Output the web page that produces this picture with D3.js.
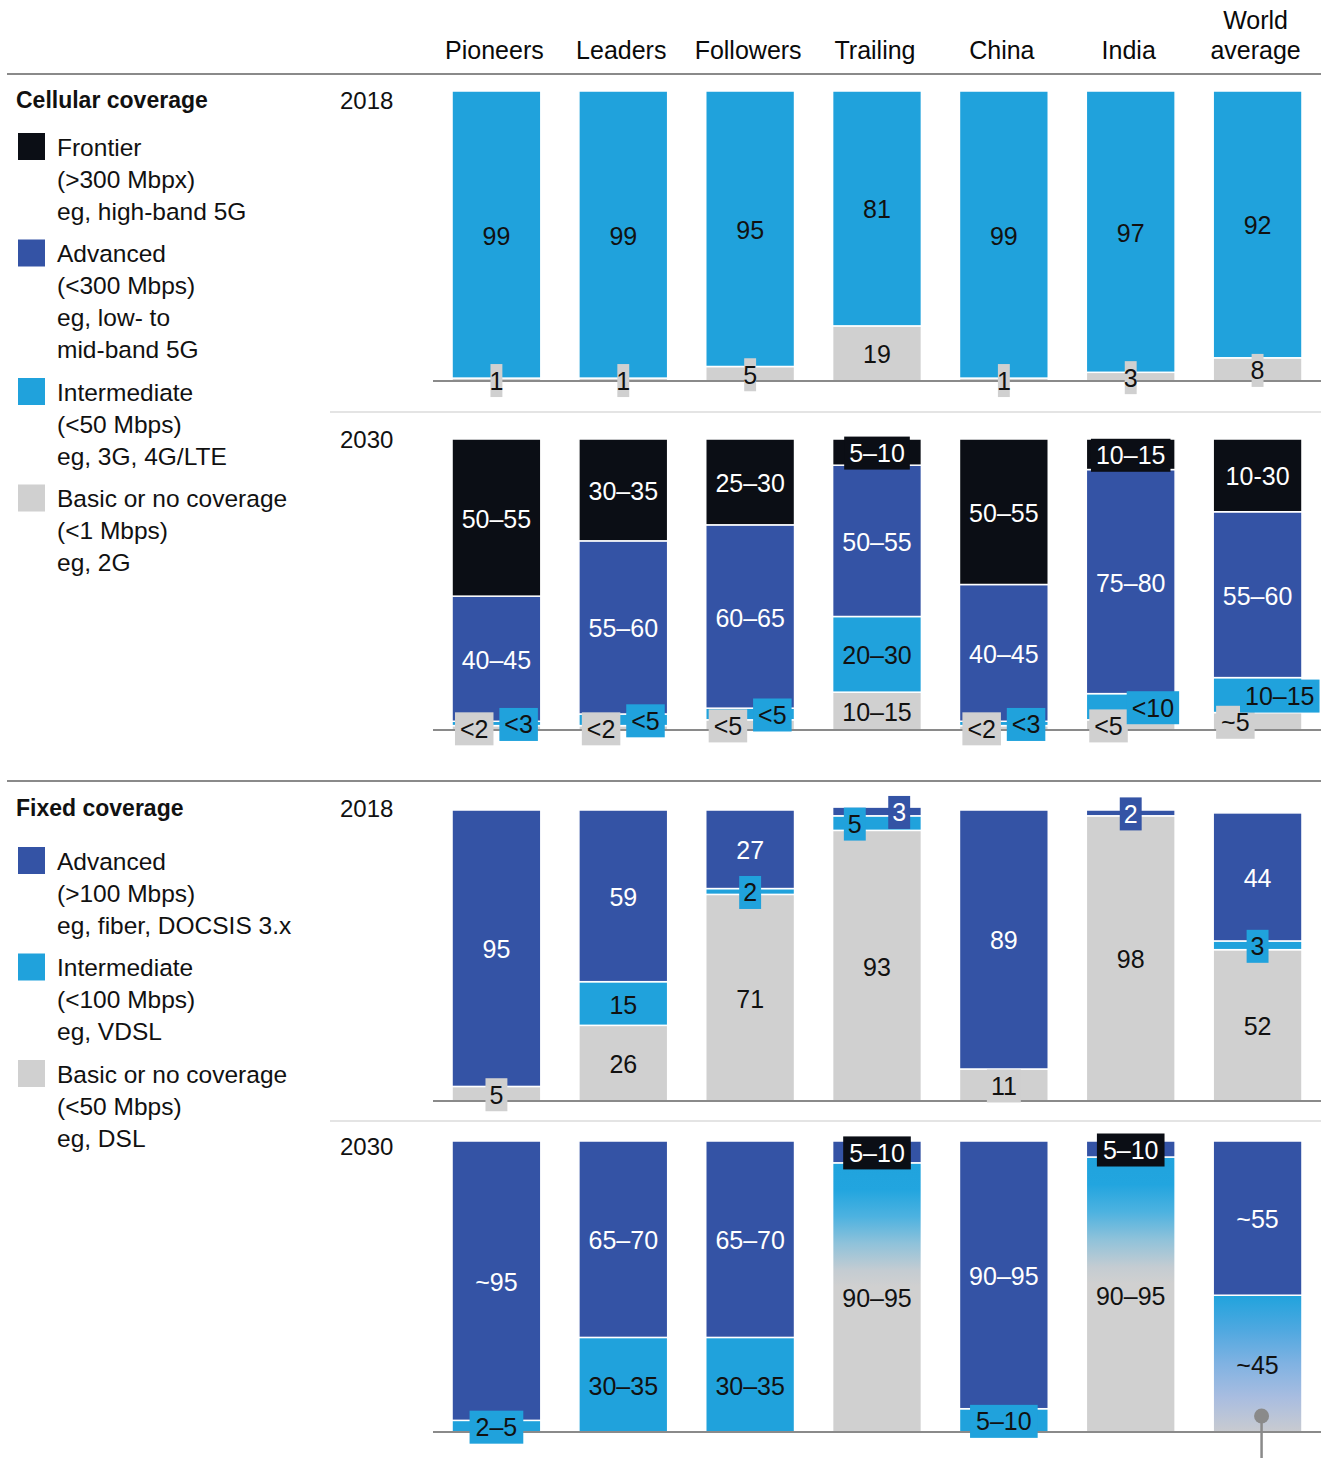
<!DOCTYPE html>
<html><head><meta charset="utf-8">
<script src="https://cdn.jsdelivr.net/npm/d3@7"></script>
<style>
body{margin:0;background:#fff;}
svg{display:block;font-family:"Liberation Sans",Arial,Helvetica,sans-serif;}
</style></head><body>
<svg id="chart" width="1330" height="1458"></svg>
<script>
// ---------- DATA ----------
const categories = ["Pioneers","Leaders","Followers","Trailing","China","India","World average"];

// Cellular coverage, 2018 (% of population)
const cell2018Intermediate = [99,99,95,81,99,97,92];
const cell2018Basic        = [1,1,5,19,1,3,8];

// Cellular coverage, 2030 (estimated shares for bar heights + printed ranges)
const cell2030Frontier       = [54,35,29.5,9,50,10.5,25];
const cell2030FrontierLabels = ["50–55","30–35","25–30","5–10","50–55","10–15","10-30"];
const cell2030Advanced       = [43,59.5,63,52,47,77,57];
const cell2030AdvancedLabels = ["40–45","55–60","60–65","50–55","40–45","75–80","55–60"];
const cell2030Intermediate       = [1.5,4,4,26,1.5,9,12];
const cell2030IntermediateLabels = ["<3","<5","<5","20–30","<3","<10","10–15"];
const cell2030Basic       = [1.5,1.5,3.5,13,1.5,3.5,6];
const cell2030BasicLabels = ["<2","<2","<5","10–15","<2","<5","~5"];

// Fixed coverage, 2018
const fixed2018Advanced     = [95,59,27,3,89,2,44];
const fixed2018Intermediate = [0,15,2,5,0,0,3];
const fixed2018Basic        = [5,26,71,93,11,98,52];

// Fixed coverage, 2030
const fixed2030Advanced       = [96,67.5,67.5,7.5,92,5.5,53];
const fixed2030AdvancedLabels = ["~95","65–70","65–70","5–10","90–95","5–10","~55"];
const fixed2030Intermediate       = [4,32.5,32.5,0,8,0,0];
const fixed2030IntermediateLabels = ["2–5","30–35","30–35","","5–10","",""];
const fixed2030Transition       = [0,0,0,92.5,0,94.5,47]; // intermediate fading into basic
const fixed2030TransitionLabels = ["","","","90–95","","90–95","~45"];

const yearLabels = ["2018","2030"];

const cellLegend = [
  {key:"frontier", lines:["Frontier","(>300 Mbpx)","eg, high-band 5G"]},
  {key:"advanced", lines:["Advanced","(<300 Mbps)","eg, low- to","mid-band 5G"]},
  {key:"intermediate", lines:["Intermediate","(<50 Mbps)","eg, 3G, 4G/LTE"]},
  {key:"basic", lines:["Basic or no coverage","(<1 Mbps)","eg, 2G"]}
];
const fixedLegend = [
  {key:"advanced", lines:["Advanced","(>100 Mbps)","eg, fiber, DOCSIS 3.x"]},
  {key:"intermediate", lines:["Intermediate","(<100 Mbps)","eg, VDSL"]},
  {key:"basic", lines:["Basic or no coverage","(<50 Mbps)","eg, DSL"]}
];

// ---------- STYLE ----------
const colors = {frontier:"#0b0e15", advanced:"#3453a5", intermediate:"#20a2dc", basic:"#d0d0d0"};
const textDark = "#111", lineGray = "#8a8a8a", lightLine = "#e4e4e4";

const svg = d3.select("#chart");
const defs = svg.append("defs");

const x = d3.scaleBand().domain(categories).range([433,1321]).paddingInner(0.3).paddingOuter(0.15);
const bw = x.bandwidth();

// gradients for the "transition" segments
const gradTall = [[0,"#20a3dd"],[0.1,"#22a5df"],[0.2,"#4db2e0"],[0.3,"#8fc2da"],[0.4,"#c4ccd2"],[0.46,"#d0d0d0"],[1,"#d0d0d0"]];
const gradShort = [[0,"#20a3dd"],[0.25,"#4ea8e0"],[0.5,"#80b2e2"],[0.75,"#a9bde0"],[1,"#c9cbd0"]];
function makeGrad(id, stops){
  const lg = defs.append("linearGradient").attr("id",id).attr("x1",0).attr("y1",0).attr("x2",0).attr("y2",1);
  stops.forEach(s=>lg.append("stop").attr("offset",s[0]).attr("stop-color",s[1]));
}
makeGrad("gradTall", gradTall);
makeGrad("gradShort", gradShort);

const panels = [
  {top:91, base:381, year:yearLabels[0], yearDy:9, boxPad:-1, series:[
    {key:"basic", values:cell2018Basic},
    {key:"intermediate", values:cell2018Intermediate}]},
  {top:439, base:730, year:yearLabels[1], yearDy:0, boxPad:5, series:[
    {key:"basic", values:cell2030Basic, labels:cell2030BasicLabels},
    {key:"intermediate", values:cell2030Intermediate, labels:cell2030IntermediateLabels},
    {key:"advanced", values:cell2030Advanced, labels:cell2030AdvancedLabels},
    {key:"frontier", values:cell2030Frontier, labels:cell2030FrontierLabels}]},
  {top:810, base:1101, year:yearLabels[0], yearDy:-2, boxPad:4, series:[
    {key:"basic", values:fixed2018Basic},
    {key:"intermediate", values:fixed2018Intermediate},
    {key:"advanced", values:fixed2018Advanced}]},
  {top:1141, base:1432, year:yearLabels[1], yearDy:5, boxPad:6, boxFill:{advanced:colors.frontier}, series:[
    {key:"transition", values:fixed2030Transition, labels:fixed2030TransitionLabels},
    {key:"intermediate", values:fixed2030Intermediate, labels:fixed2030IntermediateLabels},
    {key:"advanced", values:fixed2030Advanced, labels:fixed2030AdvancedLabels}]}
];

// ---------- HEADER ----------
categories.forEach(c=>{
  const lines = c.length > 10 ? c.split(" ") : [c];
  lines.forEach((t,k)=>{
    svg.append("text").attr("x", x(c)+bw/2 - 2).attr("y", 50 - (lines.length-1-k)*30)
      .attr("text-anchor","middle").attr("dominant-baseline","central")
      .attr("font-size",25).attr("fill","#0a0a0a").text(t);
  });
});

// rules
function hline(y1, xa, xb, col, w){ svg.append("line").attr("x1",xa).attr("x2",xb).attr("y1",y1).attr("y2",y1).attr("stroke",col).attr("stroke-width",w); }
hline(74, 7, 1321, lineGray, 2);
hline(781, 7, 1321, lineGray, 2);
hline(412, 330, 1321, lightLine, 2);
hline(1121, 330, 1321, lightLine, 2);

// ---------- PANELS ----------
function segFill(key, h){
  if(key==="transition") return h > 200 ? "url(#gradTall)" : "url(#gradShort)";
  return colors[key];
}
panels.forEach(p=>{
  const y = d3.scaleLinear().domain([0,100]).range([p.base, p.top]);
  const gBars = svg.append("g");
  const gBase = svg.append("g");
  const gLab = svg.append("g");
  svg.append("text").attr("x",340).attr("y",p.top+p.yearDy).attr("dominant-baseline","central")
    .attr("font-size",24).attr("fill",textDark).text(p.year);
  gBase.append("line").attr("x1",433).attr("x2",1321).attr("y1",p.base).attr("y2",p.base)
    .attr("stroke",lineGray).attr("stroke-width",2);
  categories.forEach((c,i)=>{
    let cum = 0;
    const segs = [];
    p.series.forEach(s=>{
      const v = s.values[i];
      if(!v) return;
      const y0 = y(cum), y1 = y(cum+v);
      cum += v;
      segs.push({key:s.key, y0, y1, h:y0-y1, label: s.labels ? s.labels[i] : String(v)});
    });
    segs.forEach(d=>{
      gBars.append("rect").attr("x",x(c)).attr("y",d.y1).attr("width",bw).attr("height",d.h)
        .attr("fill",segFill(d.key,d.h)).attr("stroke","#fff").attr("stroke-width",1.5);
    });
    segs.forEach(d=>{ d.boxed = d.h < 36; });
    segs.forEach((d,k)=>{
      if(!d.label) return;
      let pos = 0.5;
      if(d.boxed){
        const below = segs[k-1], above = segs[k+1];
        if(above && above.boxed) pos = 0.25;
        else if(below && below.boxed) pos = 0.75;
      }
      const cx = x(c) + bw*pos, cy = (d.y0+d.y1)/2 + 1;
      const light = (d.key==="advanced" || d.key==="frontier");
      const g = gLab.append("g");
      const t = g.append("text").attr("x",cx).attr("y",cy).attr("text-anchor","middle")
        .attr("dominant-baseline","central").attr("font-size",25)
        .attr("fill", light ? "#fff" : textDark).text(d.label);
      if(d.boxed){
        const w = t.node().getComputedTextLength() + 2*p.boxPad;
        const bf = (p.boxFill && p.boxFill[d.key]) || colors[d.key];
        g.insert("rect","text").attr("x",cx-w/2).attr("y",cy-16.5).attr("width",w).attr("height",33).attr("fill",bf);
      }
    });
  });
});

// annotation marker on World average, fixed 2030
const mx = x("World average") + bw/2 + 4;
svg.append("line").attr("x1",mx).attr("x2",mx).attr("y1",1416).attr("y2",1458).attr("stroke",lineGray).attr("stroke-width",2.5);
svg.append("circle").attr("cx",mx).attr("cy",1416).attr("r",7.5).attr("fill",lineGray);

// ---------- LEGENDS ----------
function legend(title, titleY, items, firstY){
  svg.append("text").attr("x",16).attr("y",titleY).attr("dominant-baseline","central")
    .attr("font-size",23).attr("font-weight","bold").attr("fill",textDark).text(title);
  let yy = firstY;
  items.forEach(it=>{
    svg.append("rect").attr("x",18).attr("y",yy-14).attr("width",27).attr("height",27).attr("fill",colors[it.key]);
    it.lines.forEach((l,k)=>{
      svg.append("text").attr("x",57).attr("y",yy + k*32).attr("dominant-baseline","central")
        .attr("font-size",24.5).attr("fill",textDark).text(l);
    });
    yy += (it.lines.length-1)*32 + 42.5;
  });
}
legend("Cellular coverage", 100, cellLegend, 147);
legend("Fixed coverage", 808, fixedLegend, 861);
</script>
</body></html>
